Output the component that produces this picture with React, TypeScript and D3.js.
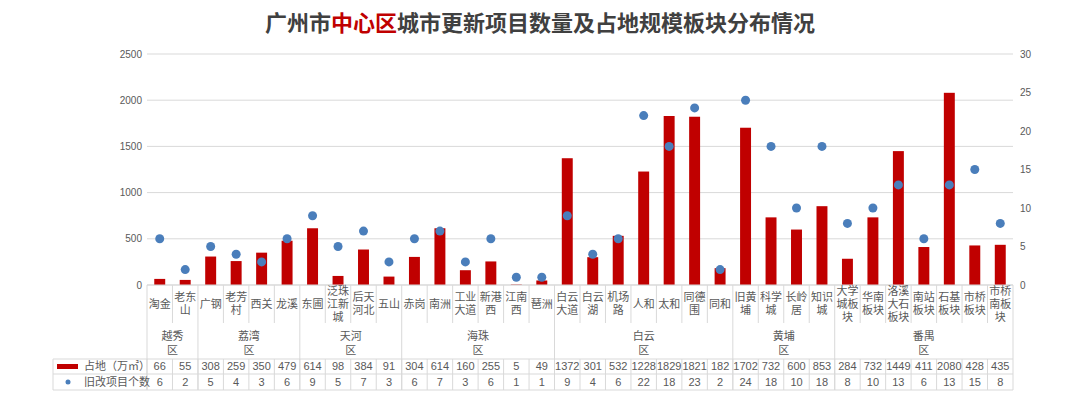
import * as d3 from "d3";
import React from "react";

// 板块 / 区 / 占地（万㎡）/ 旧改项目个数
const blocks = [
  "淘金", "老东山", "广钢", "老芳村", "西关", "龙溪", "东圃", "泛珠江新城", "后天河北", "五山",
  "赤岗", "南洲", "工业大道", "新港西", "江南西", "琶洲", "白云大道", "白云湖", "机场路", "人和",
  "太和", "同德围", "同和", "旧黄埔", "科学城", "长岭居", "知识城", "大学城板块", "华南板块",
  "洛溪大石板块", "南站板块", "石基板块", "市桥板块", "市桥南板块",
];
const districts = ["越秀区", "荔湾区", "天河区", "海珠区", "白云区", "黄埔区", "番禺区"];
const districtSizes = [2, 4, 4, 6, 7, 4, 7];
const area = [
  66, 55, 308, 259, 350, 479, 614, 98, 384, 91, 304, 614, 160, 255, 5, 49, 1372, 301, 532, 1228,
  1829, 1821, 182, 1702, 732, 600, 853, 284, 732, 1449, 411, 2080, 428, 435,
];
const projects = [
  6, 2, 5, 4, 3, 6, 9, 5, 7, 3, 6, 7, 3, 6, 1, 1, 9, 4, 6, 22, 18, 23, 2, 24, 18, 10, 18, 8, 10,
  13, 6, 13, 15, 8,
];
const leftTicks = [0, 500, 1000, 1500, 2000, 2500];
const rightTicks = [0, 5, 10, 15, 20, 25, 30];

const W = 1080;
const H = 397;
const TITLE_FONT = "'Noto Sans CJK SC', sans-serif";
const FONT = "'Liberation Sans', 'Noto Sans CJK SC', sans-serif";
const RED = "#c00000";
const BLUE = "#4a7ebb";
const GRID = "#d9d9d9";
const TXT = "#595959";

const chunk = (s: string) => {
  const out: string[] = [];
  for (let i = 0; i < s.length; i += 2) out.push(s.slice(i, i + 2));
  return out;
};

export default function App() {
  const left = 147;
  const right = 1013;
  const top = 54;
  const bottom = 285;

  const x = d3.scaleBand<string>().domain(blocks).range([left, right]).paddingInner(0.57).paddingOuter(0.285);
  const step = x.step();
  const yL = d3.scaleLinear().domain([0, 2500]).range([bottom, top]);
  const yR = d3.scaleLinear().domain([0, 30]).range([bottom, top]);

  const catBottom = 323;
  const distBottom = 359;
  const row1 = 374;
  const row2 = 390;
  const tableLeft = 53;

  // district boundaries
  const bounds = [0];
  districtSizes.forEach((n) => bounds.push(bounds[bounds.length - 1] + n));
  const edgeX = (i: number) => left + i * step;
  const mid = (b: string) => (x(b) as number) + x.bandwidth() / 2;

  return (
    <svg width={W} height={H} style={{ position: "absolute", left: 0, top: 0, background: "#fff" }} fontFamily={FONT}>
      <rect width={W} height={H} fill="#fff" />
      <text x={W / 2} y={31} textAnchor="middle" fontSize={22} fontWeight="bold" fill="#404040" fontFamily={TITLE_FONT}>
        广州市<tspan fill={RED}>中心区</tspan>城市更新项目数量及占地规模板块分布情况
      </text>

      {/* grid + axes */}
      {leftTicks.map((t) => (
        <g key={"l" + t}>
          <line x1={left} x2={right} y1={yL(t)} y2={yL(t)} stroke={GRID} strokeWidth={1} />
          <text x={142} y={yL(t)} dy="0.35em" textAnchor="end" fontSize={10} fill={TXT}>{t}</text>
        </g>
      ))}
      {rightTicks.map((t) => (
        <text key={"r" + t} x={1020} y={yR(t)} dy="0.35em" fontSize={10} fill={TXT}>{t}</text>
      ))}

      {/* bars */}
      {blocks.map((b, i) => (
        <rect key={"b" + b} x={x(b)} y={yL(area[i])} width={x.bandwidth()} height={bottom - yL(area[i])} fill={RED} />
      ))}
      {/* dots */}
      {blocks.map((b, i) => (
        <circle key={"c" + b} cx={mid(b)} cy={yR(projects[i])} r={4.5} fill={BLUE} />
      ))}

      {/* table lines */}
      <g stroke={GRID} strokeWidth={1} fill="none">
        {blocks.map((b, i) =>
          i === 0 ? null : (
            <line key={"v" + i} x1={edgeX(i)} x2={edgeX(i)} y1={bottom} y2={bounds.includes(i) ? row2 : catBottom} />
          )
        )}
        {blocks.map((b, i) => (
          <line key={"vd" + i} x1={edgeX(i)} x2={edgeX(i)} y1={distBottom} y2={row2} />
        ))}
        <line x1={left} x2={left} y1={bottom} y2={row2} />
        <line x1={right} x2={right} y1={bottom} y2={row2} />
        <line x1={tableLeft} x2={tableLeft} y1={distBottom} y2={row2} />
        <line x1={tableLeft} x2={right} y1={distBottom} y2={distBottom} />
        <line x1={tableLeft} x2={right} y1={row1} y2={row1} />
        <line x1={tableLeft} x2={right} y1={row2} y2={row2} />
      </g>
      <line x1={left} x2={right} y1={bottom} y2={bottom} stroke={GRID} />

      {/* category labels */}
      {blocks.map((b) => {
        const lines = chunk(b);
        const y0 = 304 - ((lines.length - 1) * 13) / 2;
        return lines.map((l, j) => (
          <text key={"t" + b + j} x={mid(b)} y={y0 + j * 13} dy="0.35em" fontSize={11} fill={TXT} textAnchor="middle">
            {l}
          </text>
        ));
      })}

      {/* district labels */}
      {districts.map((d, k) => {
        const cx = (edgeX(bounds[k]) + edgeX(bounds[k + 1])) / 2;
        return (
          <g key={"d" + d} fontSize={11} fill={TXT} textAnchor="middle">
            <text x={cx} y={336} dy="0.35em">{d.slice(0, 2)}</text>
            <text x={cx} y={350} dy="0.35em">{d.slice(2)}</text>
          </g>
        );
      })}

      {/* data rows */}
      {blocks.map((b, i) => (
        <g key={"v" + b} fontSize={11} fill={TXT} textAnchor="middle">
          <text x={mid(b)} y={(distBottom + row1) / 2} dy="0.35em">{area[i]}</text>
          <text x={mid(b)} y={(row1 + row2) / 2} dy="0.35em">{projects[i]}</text>
        </g>
      ))}

      {/* legend */}
      <rect x={57} y={364} width={21} height={5} fill={RED} />
      <text x={84} y={(distBottom + row1) / 2} dy="0.35em" fontSize={11} fill={TXT}>占地（万㎡）</text>
      <circle cx={68} cy={(row1 + row2) / 2} r={2.5} fill={BLUE} />
      <text x={84} y={(row1 + row2) / 2} dy="0.35em" fontSize={11} fill={TXT}>旧改项目个数</text>
    </svg>
  );
}
